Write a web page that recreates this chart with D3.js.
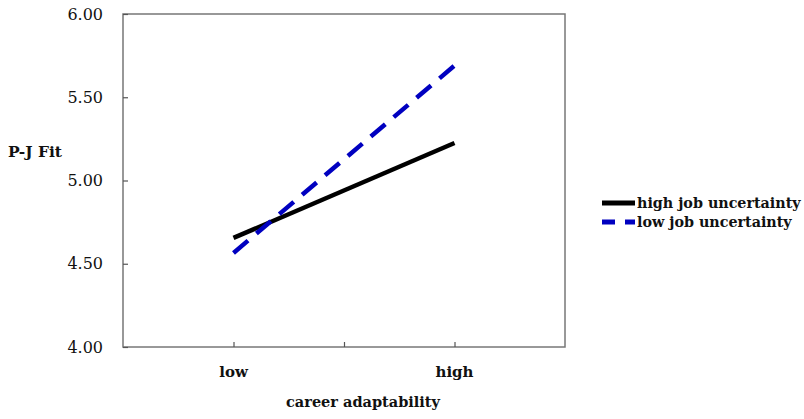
<!DOCTYPE html>
<html>
<head>
<meta charset="utf-8">
<script src="https://cdn.jsdelivr.net/npm/d3@7"></script>
<style>
  body { margin: 0; background: #fff; }
</style>
</head>
<body>
<div id="wrapper"></div>
<script>
const categories = ["low", "mid", "high"]
const categoryLabels = { low: "low", mid: "", high: "high" }
const yTicks = [4.0, 4.5, 5.0, 5.5, 6.0]
const highUncertainty = [ { x: "low", y: 4.655 }, { x: "high", y: 5.225 } ]
const lowUncertainty = [ { x: "low", y: 4.565 }, { x: "high", y: 5.69 } ]
const seriesNames = ["high job uncertainty", "low job uncertainty"]

const serif = "'DejaVu Serif', serif"

let dimensions = {
  width: 804,
  height: 419,
  margin: { top: 14, right: 239, bottom: 72, left: 123 },
}
dimensions.boundedWidth = dimensions.width - dimensions.margin.left - dimensions.margin.right
dimensions.boundedHeight = dimensions.height - dimensions.margin.top - dimensions.margin.bottom

const wrapper = d3.select("#wrapper")
  .append("svg")
    .attr("width", dimensions.width)
    .attr("height", dimensions.height)
    .attr("font-family", serif)

const bounds = wrapper.append("g")
  .attr("transform", `translate(${dimensions.margin.left}, ${dimensions.margin.top})`)

const xScale = d3.scalePoint()
  .domain(categories)
  .range([0, dimensions.boundedWidth])
  .padding(1)

const yScale = d3.scaleLinear()
  .domain([4, 6])
  .range([dimensions.boundedHeight, 0])

// frame
bounds.append("rect")
  .attr("width", dimensions.boundedWidth)
  .attr("height", dimensions.boundedHeight)
  .attr("fill", "none")
  .attr("stroke", "#777")
  .attr("stroke-width", 1.5)

// y axis, ticks inside
const yAxis = bounds.append("g")
  .call(d3.axisRight(yScale).tickValues(yTicks).tickSize(5).tickFormat(""))
yAxis.select(".domain").remove()
yAxis.selectAll("line").attr("stroke", "#555").attr("stroke-width", 1.2)

bounds.append("g").selectAll("text")
  .data(yTicks)
  .join("text")
    .attr("x", -20)
    .attr("y", d => yScale(d))
    .attr("dy", "0.35em")
    .attr("text-anchor", "end")
    .attr("fill", "#111")
    .style("font-size", "16px")
    .text(d3.format(".2f"))

// x axis, ticks inside
const xAxis = bounds.append("g")
  .attr("transform", `translate(0, ${dimensions.boundedHeight})`)
  .call(d3.axisTop(xScale).tickSize(5).tickFormat(""))
xAxis.select(".domain").remove()
xAxis.selectAll("line").attr("stroke", "#555").attr("stroke-width", 1.2)

bounds.append("g").selectAll("text")
  .data(categories)
  .join("text")
    .attr("x", d => xScale(d))
    .attr("y", dimensions.boundedHeight + 30)
    .attr("text-anchor", "middle")
    .attr("fill", "#111")
    .style("font-size", "15px")
    .style("font-weight", "bold")
    .text(d => categoryLabels[d])

bounds.append("text")
  .attr("x", xScale("mid") + 19)
  .attr("y", dimensions.boundedHeight + 60)
  .attr("text-anchor", "middle")
  .attr("fill", "#111")
  .style("font-size", "14.5px")
  .style("font-weight", "bold")
  .text("career adaptability")

wrapper.append("text")
  .attr("x", 8)
  .attr("y", 157)
  .attr("fill", "#111")
  .style("font-size", "15.5px")
  .style("font-weight", "bold")
  .text("P-J Fit")

const lineGenerator = d3.line()
  .x(d => xScale(d.x))
  .y(d => yScale(d.y))

bounds.append("path")
  .attr("d", lineGenerator(highUncertainty))
  .attr("fill", "none")
  .attr("stroke", "#000")
  .attr("stroke-width", 4.5)

bounds.append("path")
  .attr("d", lineGenerator(lowUncertainty))
  .attr("fill", "none")
  .attr("stroke", "#0000c0")
  .attr("stroke-width", 4.5)
  .attr("stroke-dasharray", "19 11")

// legend
const legend = wrapper.append("g")
  .attr("transform", "translate(602, 203)")
const styles = [
  { color: "#000", dash: null },
  { color: "#0000c0", dash: "13 10" },
]
seriesNames.forEach((name, i) => {
  const row = legend.append("g").attr("transform", `translate(0, ${i * 19})`)
  row.append("line")
    .attr("x1", 0).attr("x2", 33)
    .attr("stroke", styles[i].color)
    .attr("stroke-width", 5)
    .attr("stroke-dasharray", styles[i].dash)
  row.append("text")
    .attr("x", 35)
    .attr("dy", "0.35em")
    .attr("fill", "#111")
    .style("font-size", "14.3px")
    .style("font-weight", "bold")
    .text(name)
})
</script>
</body>
</html>
